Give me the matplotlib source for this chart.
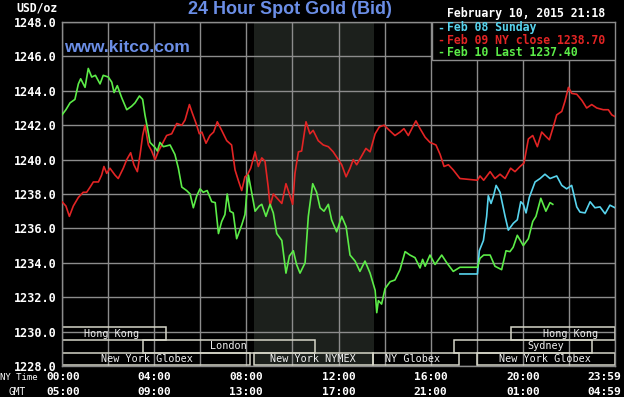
"""
24 Hour Spot Gold (Bid) - kitco style chart.
"""

import matplotlib
matplotlib.use("Agg")
import matplotlib.pyplot as plt
from matplotlib.patches import Rectangle
from matplotlib.transforms import blended_transform_factory
import numpy as np

W, H = 624, 397

C_CYAN = "#58d4ee"
C_RED = "#e22424"
C_GREEN = "#5cec48"
C_BLUE = "#6b8ee6"
C_GRID = "#8c8c8c"
C_BOX = "#d6d6c8"
C_SHADE = "#1c201c"
MONO = "DejaVu Sans Mono"

# ---- data (hours after 00:00 NY time, USD/oz) ----
green_hours = [0.0, 0.17, 0.35, 0.56, 0.71, 0.81, 1.0, 1.14, 1.29, 1.45, 1.65, 1.79,
               2.01, 2.16, 2.26, 2.4, 2.59, 2.81, 3.02, 3.17, 3.36, 3.5, 3.6, 3.7,
               3.82, 4.04, 4.14, 4.25, 4.4, 4.69, 4.9, 5.05, 5.2, 5.41, 5.56, 5.7,
               5.85, 5.99, 6.13, 6.3, 6.5, 6.65, 6.79, 6.93, 7.07, 7.17, 7.29, 7.43,
               7.58, 7.8, 7.94, 8.09, 8.23, 8.38, 8.56, 8.67, 8.85, 9.03, 9.17, 9.32,
               9.54, 9.72, 9.87, 10.04, 10.18, 10.33, 10.55, 10.69, 10.88, 11.05,
               11.2, 11.37, 11.56, 11.7, 11.92, 12.14, 12.33, 12.5, 12.72, 12.93,
               13.15, 13.37, 13.59, 13.66, 13.73, 13.87, 14.02, 14.24, 14.45, 14.67,
               14.89, 15.1, 15.32, 15.54, 15.65, 15.76, 15.97, 16.19, 16.48, 16.7,
               16.98, 17.27, 18.03, 18.14, 18.3, 18.58, 18.79, 19.08, 19.27, 19.44,
               19.58, 19.76, 20.02, 20.24, 20.43, 20.57, 20.78, 21.0, 21.18, 21.3]
green_vals = [1242.6, 1242.9, 1243.3, 1243.5, 1244.4, 1244.7, 1244.2, 1245.3, 1244.8,
              1244.9, 1244.4, 1244.9, 1244.8, 1244.5, 1243.9, 1244.3, 1243.6, 1242.9,
              1243.1, 1243.3, 1243.7, 1243.5, 1242.6, 1241.9, 1241.0, 1240.7, 1240.5,
              1241.0, 1240.75, 1240.85, 1240.3, 1239.5, 1238.4, 1238.2, 1238.0,
              1237.2, 1237.9, 1238.3, 1238.1, 1238.2, 1237.55, 1237.5, 1235.7,
              1236.4, 1236.8, 1238.0, 1237.0, 1236.9, 1235.4, 1236.2, 1236.8, 1239.1,
              1238.1, 1237.0, 1237.3, 1237.4, 1236.7, 1237.4, 1236.9, 1235.7, 1235.3,
              1233.4, 1234.4, 1234.7, 1233.9, 1233.4, 1234.0, 1236.7, 1238.6, 1238.1,
              1237.2, 1237.0, 1237.4, 1236.5, 1235.8, 1236.7, 1236.1, 1234.45,
              1234.1, 1233.5, 1234.1, 1233.4, 1232.4, 1231.1, 1231.8, 1231.6, 1232.5,
              1232.9, 1233.0, 1233.6, 1234.65, 1234.45, 1234.3, 1233.7, 1234.2,
              1233.8, 1234.45, 1233.9, 1234.45, 1234.0, 1233.5, 1233.74, 1233.74,
              1234.26, 1234.45, 1234.45, 1233.8, 1233.6, 1234.7, 1234.65, 1234.9,
              1235.6, 1235.0, 1235.4, 1236.4, 1236.7, 1237.75, 1237.0, 1237.5, 1237.4]

red_hours = [0.0, 0.17, 0.32, 0.49, 0.71, 0.92, 1.07, 1.22, 1.36, 1.58, 1.72, 1.82,
             1.94, 2.08, 2.3, 2.44, 2.66, 2.81, 2.98, 3.12, 3.27, 3.39, 3.5, 3.6,
             3.75, 3.89, 4.04, 4.19, 4.33, 4.54, 4.76, 4.98, 5.2, 5.34, 5.53, 5.63,
             5.82, 5.96, 6.07, 6.25, 6.42, 6.58, 6.74, 6.93, 7.15, 7.36, 7.51, 7.65,
             7.8, 7.94, 8.04, 8.19, 8.38, 8.52, 8.67, 8.81, 8.95, 9.03, 9.17, 9.34,
             9.54, 9.72, 9.87, 10.01, 10.11, 10.26, 10.4, 10.5, 10.59, 10.76, 10.9,
             11.12, 11.34, 11.56, 11.77, 11.99, 12.14, 12.33, 12.5, 12.64, 12.79,
             12.96, 13.19, 13.37, 13.59, 13.77, 13.98, 14.21, 14.45, 14.67, 14.84,
             15.03, 15.22, 15.36, 15.54, 15.76, 15.97, 16.23, 16.41, 16.58, 16.77,
             16.98, 17.27, 18.03, 18.14, 18.3, 18.58, 18.79, 19.01, 19.23, 19.47,
             19.66, 19.88, 20.05, 20.24, 20.43, 20.63, 20.82, 20.96, 21.15, 21.32,
             21.47, 21.69, 21.83, 21.98, 22.12, 22.34, 22.56, 22.77, 22.99, 23.21,
             23.49, 23.71, 23.86, 24.0]
red_vals = [1237.55, 1237.3, 1236.7, 1237.3, 1237.8, 1238.1, 1238.1, 1238.4, 1238.7,
            1238.7, 1239.1, 1239.6, 1239.2, 1239.5, 1239.1, 1238.9, 1239.5, 1240.0,
            1240.4, 1239.7, 1239.3, 1240.3, 1241.4, 1242.0, 1240.85, 1240.5, 1240.0,
            1240.5, 1240.85, 1241.4, 1241.5, 1242.1, 1242.0, 1242.3, 1243.2, 1242.8,
            1242.1, 1241.5, 1241.6, 1240.95, 1241.4, 1241.6, 1242.2, 1241.7, 1241.1,
            1240.85, 1239.4, 1238.8, 1238.2, 1239.0, 1239.1, 1239.5, 1240.45, 1239.6,
            1240.1, 1239.9, 1238.4, 1237.3, 1238.0, 1237.75, 1237.45, 1238.6, 1238.0,
            1237.4, 1239.2, 1240.45, 1240.5, 1241.4, 1242.2, 1241.5, 1241.7, 1241.1,
            1240.85, 1240.75, 1240.45, 1240.0, 1239.7, 1239.0, 1239.5, 1240.0,
            1239.7, 1240.1, 1240.65, 1240.45, 1241.5, 1241.9, 1242.0, 1241.7, 1241.4,
            1241.6, 1241.8, 1241.4, 1241.9, 1242.25, 1241.8, 1241.3, 1241.0, 1240.85,
            1240.3, 1239.6, 1239.7, 1239.4, 1238.9, 1238.8, 1239.05, 1238.8, 1239.3,
            1238.9, 1239.15, 1238.9, 1239.5, 1239.3, 1239.6, 1239.8, 1241.2, 1241.4,
            1240.75, 1241.6, 1241.4, 1241.15, 1241.9, 1242.6, 1242.8, 1243.4, 1244.2,
            1243.85, 1243.8, 1243.45, 1243.0, 1243.2, 1243.0, 1242.9, 1242.9, 1242.6,
            1242.5]

cyan_hours = [17.27, 18.03, 18.11, 18.29, 18.43, 18.5, 18.62, 18.73, 18.84, 19.01,
              19.23, 19.37, 19.59, 19.76, 19.91, 20.02, 20.14, 20.28, 20.53, 20.75,
              20.96, 21.18, 21.47, 21.69, 21.9, 22.12, 22.34, 22.48, 22.7, 22.92,
              23.13, 23.35, 23.57, 23.78, 24.0]
cyan_vals = [1233.35, 1233.35, 1234.7, 1235.3, 1236.7, 1237.9, 1237.45, 1237.9,
             1238.5, 1238.1, 1236.7, 1235.9, 1236.3, 1236.5, 1237.55, 1237.4, 1236.9,
             1237.8, 1238.7, 1238.9, 1239.15, 1238.9, 1239.05, 1238.5, 1238.3,
             1238.5, 1237.25, 1236.95, 1236.9, 1237.55, 1237.2, 1237.25, 1236.85,
             1237.35, 1237.2]

legend_labels = ["Feb 08 Sunday", "Feb 09 NY close 1238.70", "Feb 10 Last 1237.40"]

ny_ticks = ["00:00", "04:00", "08:00", "12:00", "16:00", "20:00", "23:59"]
gmt_ticks = ["05:00", "09:00", "13:00", "17:00", "21:00", "01:00", "04:59"]

# sessions: name, start hour, end hour, row
session_names = ["Hong Kong", "London", "New York Globex", "New York NYMEX",
                 "NY Globex", "Sydney", "Hong Kong", "New York Globex"]
session_start = [0.0, 3.5, 0.0, 8.33, 13.5, 17.0, 19.5, 18.0]
session_end = [4.5, 11.0, 8.15, 13.5, 17.25, 23.0, 24.0, 24.0]
session_row = [2, 1, 0, 0, 0, 1, 2, 0]
session_text_x = [2.15, 7.2, 3.7, 10.9, 15.2, 21.0, 22.05, 20.95]

nymex_span = (8.33, 13.55)


def fx(x):
  return x / W


def fy(y):
  return 1 - y / H


fig = plt.figure(figsize=(W / 100, H / 100), dpi=100, facecolor="black")
ax = fig.add_axes([fx(62), fy(366), (615 - 62) / W, (366 - 22) / H])
ax.set_facecolor("black")
ax.set_xlim(0, 24)
ax.set_ylim(1228, 1248)

# pit-hours shading
ax.axvspan(*nymex_span, color=C_SHADE, zorder=0, lw=0)

# grid
ax.set_xticks(np.arange(0, 25, 2))
ax.set_yticks(np.arange(1228, 1249, 2))
ax.grid(True, color=C_GRID, linewidth=1.0, zorder=1)
ax.tick_params(length=0, labelbottom=False)
ax.set_yticklabels([f"{v:.1f}" for v in np.arange(1228, 1249, 2)],
                   fontfamily=MONO, fontweight="bold", fontsize=8.5, color="white")
ax.tick_params(axis="y", pad=4)
for sp in ax.spines.values():
  sp.set_color(C_GRID)
  sp.set_linewidth(1.0)

# session boxes
row_h = 0.74
for name, s, e, r, tx in zip(session_names, session_start, session_end,
                             session_row, session_text_x):
  y0 = 1228.03 + r * row_h
  ax.add_patch(Rectangle((s, y0), e - s, row_h, fill=False, edgecolor=C_BOX,
                         linewidth=1.1, zorder=2))
  ax.text(tx, y0 + row_h / 2, name, ha="center", va="center", color="#f0f0f0",
          fontfamily=MONO, fontsize=7.3, zorder=3)

# price lines
ax.plot(red_hours, red_vals, color=C_RED, lw=1.2, zorder=4)
ax.plot(cyan_hours, cyan_vals, color=C_CYAN, lw=1.2, zorder=5)
ax.plot(green_hours, green_vals, color=C_GREEN, lw=1.2, zorder=6)

# legend box
leg_y0 = 1248 - 38 / 17.2
ax.add_patch(Rectangle((16.06, leg_y0), 24 - 16.06, 1248 - leg_y0,
                       facecolor="black", edgecolor=C_GRID, lw=1.0, zorder=7))
for i, (lab, c) in enumerate(zip(legend_labels, [C_CYAN, C_RED, C_GREEN])):
  y = 28 + 12 * i
  fig.text(fx(437), fy(y), "-", color=c, fontfamily=MONO, fontweight="bold",
           fontsize=8.3, va="center", ha="left", zorder=8)
  fig.text(fx(447), fy(y), lab, color=c, fontfamily=MONO, fontweight="bold",
           fontsize=8.3, va="center", ha="left", zorder=8)

# x labels (two rows)
trans = blended_transform_factory(ax.transData, fig.transFigure)
tick_pos = [0.05, 4, 8, 12, 16, 20, 23.52]
for p, a, b in zip(tick_pos, ny_ticks, gmt_ticks):
  ax.text(p, fy(377), a, transform=trans, ha="center", va="center", color="white",
          fontfamily=MONO, fontweight="bold", fontsize=8.1)
  ax.text(p, fy(392), b, transform=trans, ha="center", va="center", color="white",
          fontfamily=MONO, fontweight="bold", fontsize=8.1)
fig.text(fx(0), fy(377), "NY Time", color="white", fontfamily=MONO, fontsize=6.5,
         ha="left", va="center")
fig.text(fx(17), fy(392), "GMT", color="white", fontfamily=MONO, fontsize=6.9,
         ha="center", va="center")

# header texts
fig.text(fx(58), fy(8), "USD/oz", color="white", fontfamily=MONO, fontweight="bold",
         fontsize=8.3, ha="right", va="center")
fig.text(fx(290), fy(10), "24 Hour Spot Gold (Bid)", color=C_BLUE,
         fontfamily="Liberation Sans", fontweight="bold", fontsize=13,
         ha="center", va="center")
fig.text(fx(64), fy(47), "www.kitco.com", color=C_BLUE, fontfamily="Liberation Sans",
         fontweight="bold", fontsize=12.5, ha="left", va="center")
fig.text(fx(605), fy(14), "February 10, 2015 21:18", color="white", fontfamily=MONO,
         fontweight="bold", fontsize=8.3, ha="right", va="center")

fig.savefig("out.png", dpi=100, facecolor="black")
